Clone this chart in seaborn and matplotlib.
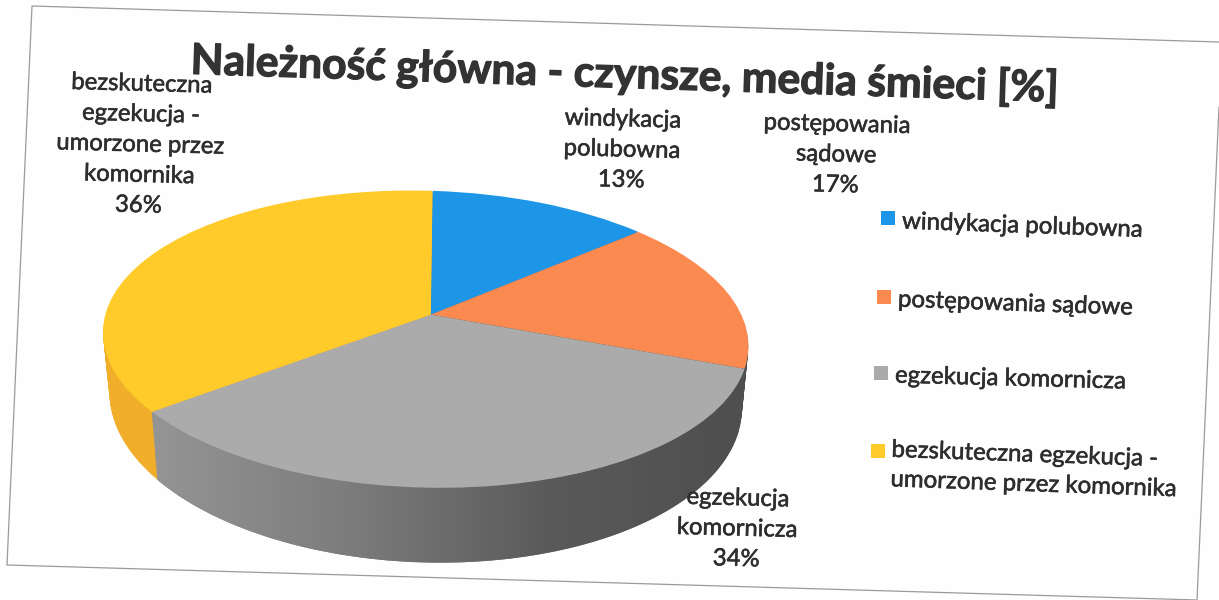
import numpy as np
import seaborn as sns
import matplotlib
matplotlib.use("Agg")
import matplotlib.pyplot as plt
import matplotlib.patheffects as pe
from matplotlib.colors import LinearSegmentedColormap
from matplotlib.patches import Polygon
from matplotlib.transforms import Transform

# Data
title = "Należność główna - czynsze, media śmieci [%]"
categories = ["windykacja polubowna", "postępowania sądowe", "egzekucja komornicza",
              "bezskuteczna egzekucja -\numorzone przez komornika"]
label_names = ["windykacja\npolubowna", "postępowania\nsądowe", "egzekucja\nkomornicza",
               "bezskuteczna\negzekucja -\numorzone przez\nkomornika"]
shares = [13, 17, 34, 36]

# Styling
top_colors = sns.color_palette(["#1E96E8", "#FA8A50", "#ABABAB", "#FFCB2B"])
side_colors = sns.color_palette(["#1570B0", "#4E4E4E", "#7A7A7A", "#F0AE2A"])
TEXT = "#2E2E2E"
START = 90
LAYERS = 36

# where points of the pie land on the scanned page (unit circle -> pixels)
RIM_POINTS = [(np.cos(np.radians(a)), np.sin(np.radians(a))) for a in (90, 43.2, -18, -140.4)] + [(0, 0)]
RIM_PIXELS = [(433, 190), (638, 233), (745, 368), (152, 412), (430, 315)]
LABEL_POS = [(622, 150, -1.5), (836, 155, -1.5), (737, 529, -1.5), (140, 145, -1.5)]
LEGEND_POS = [(888, 218, 902, 222, -2), (884, 297, 898, 300, -2),
              (881, 373, 895, 376, -1.5), (878, 451, 891, 465, -2)]


def fit_homography(points, pixels):
    rows, rhs = [], []
    for (x, y), (px, py) in zip(points, pixels):
        rows.append([x, y, 1, 0, 0, 0, -px * x, -px * y])
        rows.append([0, 0, 0, x, y, 1, -py * x, -py * y])
        rhs += [px, py]
    return np.append(np.linalg.lstsq(np.array(rows), np.array(rhs), rcond=None)[0], 1).reshape(3, 3)


class PageTilt(Transform):
    """Perspective of the 3D pie; level 0 is the top rim, level 1 the bottom rim."""
    input_dims = 2
    output_dims = 2
    is_separable = False

    def __init__(self, H, level=0):
        super().__init__()
        self.H = H
        self.level = level

    def transform_non_affine(self, values):
        pts = np.c_[values, np.ones(len(values))] @ self.H.T
        xy = pts[:, :2] / pts[:, 2:]
        x = 430 + (xy[:, 0] - 430) * (1 - 0.02 * self.level)
        y = xy[:, 1] + self.level * (59 + 0.092 * (xy[:, 1] - 315))
        return np.c_[x, y]


sns.set_theme(style="white")
plt.rcParams["font.family"] = ["Lato", "DejaVu Sans"]

fig = plt.figure(figsize=(12.19, 6), dpi=100, facecolor="#FEFEFE")
ax = fig.add_axes([0, 0, 1, 1])
H = fit_homography(RIM_POINTS, RIM_PIXELS)
flat = {"linewidth": 0}

# Side wall: stacked copies of the pie, deepest first
zorder = 1
for level in np.linspace(1, 0, LAYERS, endpoint=False):
    wedges, _ = ax.pie(shares, colors=side_colors, startangle=START, counterclock=False, wedgeprops=flat)
    for w in wedges:
        w.set_transform(PageTilt(H, level) + ax.transData)
        w.set_zorder(zorder)
    zorder += 1

# Shading along the grey wall
gray_start = START - 360 * sum(shares[:2]) / 100
gray_end = gray_start - 360 * shares[2] / 100
arc = np.radians(np.linspace(gray_start, gray_end, 80))
arc_xy = np.c_[np.cos(arc), np.sin(arc)]
upper = PageTilt(H).transform_non_affine(arc_xy)
lower = PageTilt(H, 1).transform_non_affine(arc_xy)
wall = Polygon(np.r_[upper, lower[::-1]], closed=True, transform=ax.transData)
shade = LinearSegmentedColormap.from_list("wall", ["#959595", "#7C7C7C", "#5A5A5A", "#4E4E4E"])
img = ax.imshow(np.linspace(0, 1, 256).reshape(1, -1), cmap=shade, aspect="auto",
                extent=(150, 750, 580, 360), zorder=zorder)
img.set_clip_path(wall)
zorder += 1

# Top surface
wedges, _ = ax.pie(shares, colors=top_colors, startangle=START, counterclock=False, wedgeprops=flat)
for w in wedges:
    w.set_transform(PageTilt(H) + ax.transData)
    w.set_zorder(zorder)
zorder += 1

ax.set_aspect("auto")
ax.set_xlim(0, 1219)
ax.set_ylim(600, 0)
ax.axis("off")

# Outline of the scanned sheet
ax.plot([1219, 32, 7, 1197, 1219], [42, 6, 565, 600, 107], color="#9A9A9A", lw=0.9, zorder=0)

ax.text(624, 74.5, title, fontsize=30.7, fontweight="bold", color="#333333", rotation=-1.85,
        ha="center", va="center", rotation_mode="anchor", zorder=zorder,
        path_effects=[pe.withStroke(linewidth=0.9, foreground="#333333")])

# Scan makes the small text look a little heavier
heavier = [pe.withStroke(linewidth=0.4, foreground=TEXT)]

# Data labels
for name, share, (x, y, rot) in zip(label_names, shares, LABEL_POS):
    ax.text(x, y, f"{name}\n{share}%", fontsize=17.2, color=TEXT, rotation=rot, linespacing=1.55,
            ha="center", va="center", rotation_mode="anchor", zorder=zorder, path_effects=heavier)

# Legend
for cat, col, (mx, my, tx, ty, rot) in zip(categories, top_colors, LEGEND_POS):
    ax.scatter([mx], [my], marker="s", s=90, color=col, linewidths=0, zorder=zorder)
    ax.text(tx, ty, cat, fontsize=17.3, color=TEXT, rotation=rot, linespacing=1.5,
            ha="left", va="center", rotation_mode="anchor", zorder=zorder, path_effects=heavier)

fig.savefig("out.png", dpi=100, facecolor=fig.get_facecolor())
